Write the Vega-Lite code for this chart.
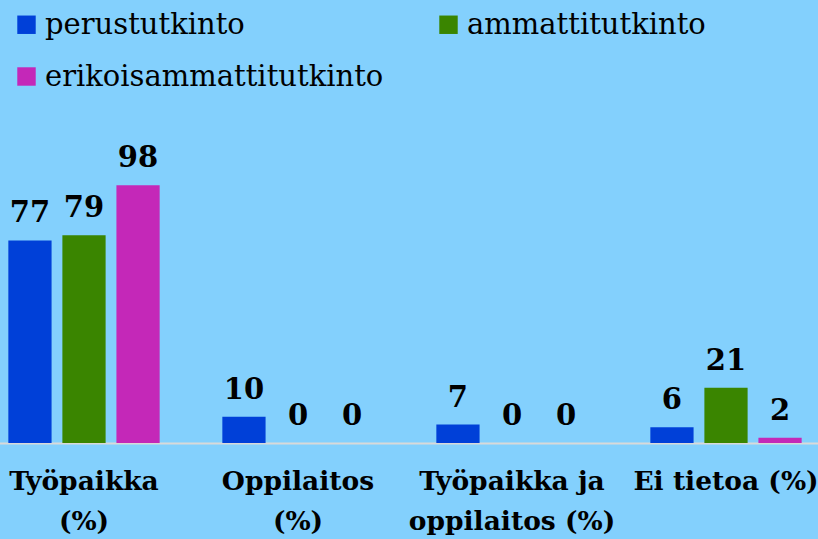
{
  "$schema": "https://vega.github.io/schema/vega-lite/v6.json",
  "width": 818,
  "height": 263,
  "autosize": {"type": "none"},
  "padding": {"left": 0, "top": 180, "right": 0, "bottom": 96},
  "background": "#83D0FD",
  "config": {"view": {"stroke": null}, "font": "DejaVu Serif"},
  "data": {
    "values": [
      {"kategoria": "Työpaikka (%)", "tutkinto": "perustutkinto", "arvo": 77},
      {"kategoria": "Työpaikka (%)", "tutkinto": "ammattitutkinto", "arvo": 79},
      {"kategoria": "Työpaikka (%)", "tutkinto": "erikoisammattitutkinto", "arvo": 98},
      {"kategoria": "Oppilaitos (%)", "tutkinto": "perustutkinto", "arvo": 10},
      {"kategoria": "Oppilaitos (%)", "tutkinto": "ammattitutkinto", "arvo": 0},
      {"kategoria": "Oppilaitos (%)", "tutkinto": "erikoisammattitutkinto", "arvo": 0},
      {"kategoria": "Työpaikka ja oppilaitos (%)", "tutkinto": "perustutkinto", "arvo": 7},
      {"kategoria": "Työpaikka ja oppilaitos (%)", "tutkinto": "ammattitutkinto", "arvo": 0},
      {"kategoria": "Työpaikka ja oppilaitos (%)", "tutkinto": "erikoisammattitutkinto", "arvo": 0},
      {"kategoria": "Ei tietoa (%)", "tutkinto": "perustutkinto", "arvo": 6},
      {"kategoria": "Ei tietoa (%)", "tutkinto": "ammattitutkinto", "arvo": 21},
      {"kategoria": "Ei tietoa (%)", "tutkinto": "erikoisammattitutkinto", "arvo": 2}
    ]
  },
  "encoding": {
    "x": {
      "field": "kategoria",
      "type": "nominal",
      "sort": ["Työpaikka (%)", "Oppilaitos (%)", "Työpaikka ja oppilaitos (%)", "Ei tietoa (%)"],
      "scale": {"range": [-23, 833], "paddingInner": 0, "paddingOuter": 0},
      "axis": {
        "title": null,
        "labelAngle": 0,
        "ticks": false,
        "domainColor": "#D9D9D9",
        "domainWidth": 2,
        "labelFont": "DejaVu Serif",
        "labelFontSize": 26.5,
        "labelFontWeight": "bold",
        "labelColor": "#000000",
        "labelPadding": 25,
        "labelLineHeight": 40,
        "labelBaseline": "top",
        "labelLimit": 400,
        "labelOverlap": false,
        "labelExpr": "datum.value == 'Työpaikka (%)' ? ['Työpaikka', '(%)'] : datum.value == 'Oppilaitos (%)' ? ['Oppilaitos', '(%)'] : datum.value == 'Työpaikka ja oppilaitos (%)' ? ['Työpaikka ja', 'oppilaitos (%)'] : datum.value"
      }
    },
    "xOffset": {
      "field": "tutkinto",
      "type": "nominal",
      "sort": ["perustutkinto", "ammattitutkinto", "erikoisammattitutkinto"],
      "scale": {"paddingInner": 0.2, "paddingOuter": 0.58}
    },
    "y": {
      "field": "arvo",
      "type": "quantitative",
      "scale": {"domain": [0, 100]},
      "axis": null
    }
  },
  "layer": [
    {
      "mark": {"type": "bar"},
      "encoding": {
        "color": {
          "field": "tutkinto",
          "type": "nominal",
          "scale": {
            "domain": ["perustutkinto", "ammattitutkinto", "erikoisammattitutkinto"],
            "range": ["#0040D8", "#3A8500", "#C428B8"]
          },
          "legend": {
            "orient": "none",
            "direction": "horizontal",
            "legendX": 12,
            "legendY": -170,
            "columns": 2,
            "title": null,
            "symbolType": "square",
            "symbolSize": 340,
            "symbolStrokeWidth": 0,
            "symbolOpacity": 1,
            "labelFont": "DejaVu Serif",
            "labelFontSize": 29,
            "labelColor": "#000000",
            "labelLimit": 500,
            "columnPadding": 50,
            "rowPadding": 22
          }
        }
      }
    },
    {
      "mark": {
        "type": "text",
        "dy": -18,
        "baseline": "alphabetic",
        "font": "DejaVu Serif",
        "fontWeight": "bold",
        "fontSize": 29,
        "color": "#000000"
      },
      "encoding": {
        "text": {"field": "arvo", "type": "quantitative"}
      }
    }
  ]
}
